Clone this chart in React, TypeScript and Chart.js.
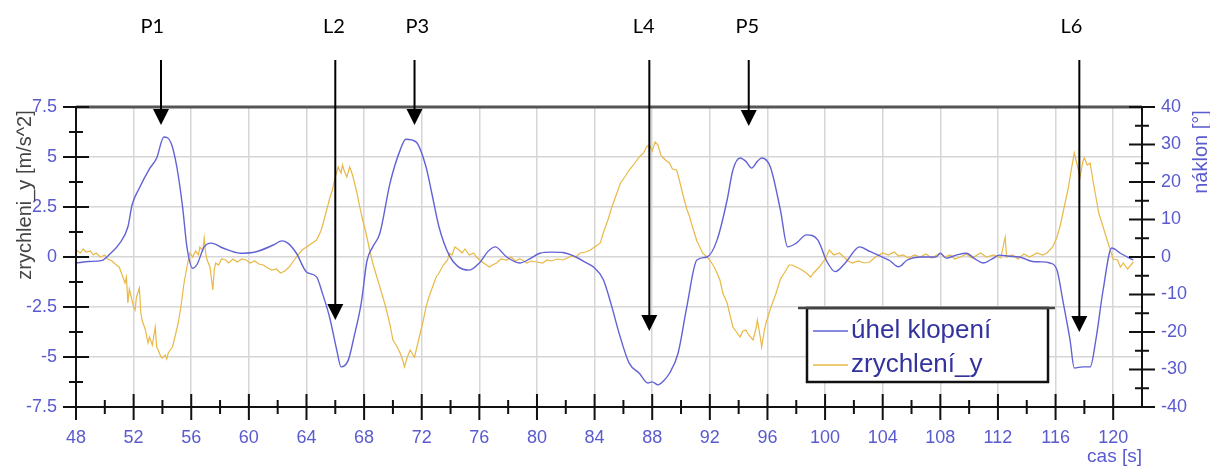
import React, { useEffect, useRef } from 'react';
import { Chart, registerables } from 'chart.js';

Chart.register(...registerables);

// ---- data -------------------------------------------------------------
const tiltTime = [
  48.0, 48.9, 49.8, 50.3, 51.0, 51.6, 51.9, 52.4, 53.1, 53.6, 54.1, 54.6, 55.0, 55.4, 55.7, 56.1, 56.4, 56.9,
  57.4, 58.2, 59.4, 60.5, 61.7, 62.3, 62.7, 63.3, 64.0, 64.7, 65.1, 65.6, 66.1, 66.4, 66.9, 67.3, 67.8, 68.2,
  68.6, 69.1, 69.8, 70.5, 70.9, 71.6, 72.3, 72.7, 73.2, 73.9, 74.5, 75.3, 76.0, 76.6, 77.1, 77.9, 78.8, 79.5,
  80.2, 81.0, 81.8, 82.7, 83.4, 83.9, 84.6, 85.2, 85.7, 86.4, 87.1, 87.7, 88.0, 88.4, 88.8, 89.2, 89.8, 90.4,
  91.1, 91.8, 92.5, 93.2, 93.6, 94.1, 94.5, 94.9, 95.3, 95.6, 96.2, 96.9, 97.4, 98.0, 98.7, 99.5, 100.1, 100.7,
  101.4, 102.4, 103.1, 103.8, 104.5, 105.1, 105.7, 106.6, 107.7, 108.0, 108.4, 109.1, 109.8, 110.4, 111.0,
  111.6, 112.1, 112.8, 113.5, 114.4, 115.0, 115.6, 116.1, 116.5, 117.0, 117.3, 117.9, 118.4, 118.8, 119.3,
  119.9, 120.5, 121.4,
];
const tiltDeg = [
  -1.6, -1.2, -0.9, 0.6, 3.5, 8, 14, 18.4, 23.5, 26.4, 32, 30.4, 24, 13.3, 2.7, -3, -2, 2.7,
  3.7, 2.4, 1, 1.4, 3.2, 4.3, 3.7, 1, -4, -5.3, -9.6, -16, -24.8, -29.3, -27.5, -21.3, -12.3, -1,
  2.7, 6.4, 19.7, 28.5, 31.4, 30.7, 24, 17, 8, 0.5, -2.5, -3.5, -1.6, 1.5, 2.7, 0, -1.6, -0.5,
  1, 1.3, 1.2, 0, -1.5, -2.6, -6, -13.3, -20.3, -28.3, -31, -33.6, -33.3, -34.1, -33, -31, -25.6, -13.3,
  -0.8, 0, 4.5, 15.2, 23.2, 26.4, 25.5, 23.7, 25.5, 26.4, 24, 12.5, 2.7, 3.7, 5.9, 4.5, -1, -3.9,
  -1.6, 2.7, 1.5, 0.3, -1, -2.6, -0.8, 0, 0, 1, -0.3, 0.5, 1, -0.5, -1.6,
  -0.5, 0.5, 0.2, 0, -1.2, -1.3, -1.6, -3.5, -11.5, -22, -29.6, -29.3, -29.3, -22, -8.8,
  2.4, 1, -0.8,
];

const accelTime = [
  48.0, 48.3, 48.5, 48.7, 49.0, 49.2, 49.4, 49.7, 50.0, 50.2, 50.5, 50.8, 51.0, 51.2, 51.4, 51.5, 51.6, 51.7,
  51.8, 52.0, 52.1, 52.2, 52.4, 52.5, 52.6, 52.8, 53.0, 53.1, 53.3, 53.5, 53.6, 53.7, 53.9, 54.0, 54.2, 54.3,
  54.4, 54.6, 54.7, 54.9, 55.1, 55.3, 55.5, 55.7, 55.9, 56.1, 56.3, 56.5, 56.6, 56.8, 56.9, 57.0, 57.1, 57.3,
  57.5, 57.6, 57.7, 57.9, 58.1, 58.4, 58.6, 58.9, 59.2, 59.5, 59.8, 60.1, 60.4, 60.7, 61.0, 61.3, 61.6, 61.9,
  62.2, 62.5, 62.8, 63.0, 63.3, 63.7, 64.0, 64.4, 64.7, 65.0, 65.2, 65.4, 65.6, 65.8, 66.0, 66.2, 66.4, 66.5,
  66.6, 66.8, 67.0, 67.2, 67.5, 67.7, 67.9, 68.1, 68.4, 68.6, 68.8, 69.1, 69.3, 69.5, 69.8, 70.0, 70.3, 70.5,
  70.7, 70.8, 71.0, 71.2, 71.4, 71.5, 71.7, 71.9, 72.1, 72.3, 72.5, 72.8, 73.0, 73.2, 73.5, 73.8, 73.9, 74.1,
  74.3, 74.6, 74.8, 75.0, 75.3, 75.6, 75.8, 76.1, 76.4, 76.7, 76.9, 77.2, 77.5, 77.9, 78.2, 78.5, 78.8, 79.0,
  79.3, 79.6, 80.0, 80.4, 80.7, 81.0, 81.4, 81.8, 82.1, 82.4, 82.7, 83.0, 83.4, 83.7, 84.0, 84.4, 84.6, 84.9,
  85.2, 85.5, 85.8, 86.1, 86.4, 86.7, 87.1, 87.4, 87.6, 87.8, 88.0, 88.2, 88.4, 88.6, 88.7, 89.0, 89.2, 89.4,
  89.7, 89.9, 90.1, 90.4, 90.6, 90.8, 91.1, 91.5, 91.8, 92.0, 92.3, 92.5, 92.7, 92.9, 93.2, 93.4, 93.6, 93.8,
  94.1, 94.3, 94.5, 94.7, 95.0, 95.2, 95.3, 95.5, 95.6, 95.8, 95.9, 96.2, 96.6, 96.9, 97.3, 97.5, 97.7, 98.0,
  98.4, 98.7, 99.0, 99.2, 99.6, 100.0, 100.3, 100.6, 101.0, 101.3, 101.6, 101.9, 102.3, 102.7, 103.1, 103.5,
  104.0, 104.4, 104.8, 105.1, 105.4, 105.8, 106.2, 106.6, 107.0, 107.4, 108.0, 108.3, 108.7, 109.0, 109.4,
  109.8, 110.2, 110.8, 111.2, 111.7, 112.2, 112.5, 112.6, 113.0, 113.4, 113.8, 114.2, 114.7, 115.1, 115.4,
  115.8, 116.1, 116.3, 116.6, 116.9, 117.1, 117.3, 117.5, 117.7, 117.9, 118.0, 118.2, 118.4, 118.6, 118.8,
  119.0, 119.3, 119.6, 119.8, 120.0, 120.3, 120.5, 120.7, 121.0, 121.4,
];
const accelMs2 = [
  0.35, 0.2, 0.4, 0.25, 0.3, 0.1, 0.2, 0.0, 0.1, -0.1, -0.2, -0.4, -0.5, -0.9, -1.3, -1.0, -2.3, -1.6,
  -1.9, -2.5, -2.65, -2.0, -1.55, -2.8, -3.2, -3.6, -4.3, -4.0, -4.4, -3.5, -4.5, -4.65, -5.0, -5.05, -4.9, -5.1,
  -4.8, -4.6, -4.5, -3.9, -3.3, -2.4, -1.3, -0.5, 0.2, 0.0, 0.3, 0.1, 0.5, 0.3, 0.95, 0.2, -0.15, -0.5,
  -1.65, -0.6, -0.3, -0.4, -0.1, -0.15, -0.3, -0.1, -0.25, -0.1, -0.15, -0.3, -0.2, -0.35, -0.4, -0.55, -0.65, -0.6,
  -0.8, -0.7, -0.5, -0.3, 0.0, 0.35, 0.5, 0.7, 0.85, 1.3, 1.8, 2.35, 2.9, 3.35, 4.0, 4.5, 4.2, 4.6,
  4.35, 4.0, 4.5, 4.1, 3.2, 2.5, 1.85, 1.3, 0.3, -0.3, -0.8, -1.5, -2.0, -2.5, -3.4, -4.15, -4.5, -4.8,
  -5.2, -5.5, -5.0, -4.65, -4.9, -5.0, -4.4, -3.8, -3.2, -2.5, -2.0, -1.4, -1.0, -0.8, -0.4, -0.15, 0.2, 0.1,
  0.5, 0.35, 0.2, 0.4, 0.1, 0.2, 0.0, -0.2, -0.35, -0.5, -0.4, -0.3, -0.1, -0.15, 0.0, -0.2, -0.1, -0.15,
  -0.3, -0.2, -0.25, -0.3, -0.15, -0.2, -0.1, -0.15, -0.05, 0.05, 0.0, 0.2, 0.25, 0.35, 0.5, 0.7, 1.2, 1.8,
  2.5, 3.1, 3.7, 4.0, 4.35, 4.6, 5.0, 5.2, 5.5, 5.6, 5.3, 5.75, 5.6, 5.1, 5.0, 4.8, 4.7, 4.4,
  4.35, 3.8, 3.2, 2.4, 2.0, 1.5, 0.8, 0.2, 0.0, -0.15, -0.5, -0.8, -1.15, -1.8, -2.3, -2.9, -3.5, -3.7,
  -4.0, -3.7, -3.65, -3.9, -4.15, -3.6, -3.15, -4.0, -4.5, -3.6, -3.3, -2.6, -1.8, -1.1, -0.65, -0.4, -0.4, -0.5,
  -0.65, -0.8, -1.0, -0.8, -0.5, -0.1, 0.35, 0.1, 0.2, 0.0, -0.2, -0.3, -0.2, -0.3, -0.25, 0.0,
  0.2, 0.1, 0.25, 0.05, 0.1, -0.05, 0.1, 0.0, 0.15, -0.05, 0.2, 0.0, 0.1, -0.1, 0.0,
  0.15, -0.05, 0.2, 0.0, 0.1, -0.05, 1.0, 0.0, 0.1, -0.1, 0.15, 0.0, 0.2, 0.1, 0.2,
  0.5, 1.0, 1.5, 2.5, 3.5, 4.4, 5.2, 4.6, 4.0, 4.8, 4.95, 4.6, 4.7, 3.8, 3.0,
  2.2, 1.5, 0.8, 0.35, -0.1, -0.15, -0.5, -0.3, -0.6, -0.25,
];

const timeTicks = [48, 52, 56, 60, 64, 68, 72, 76, 80, 84, 88, 92, 96, 100, 104, 108, 112, 116, 120];
const accelTicks = [-7.5, -5, -2.5, 0, 2.5, 5, 7.5];
const tiltTicks = [-40, -30, -20, -10, 0, 10, 20, 30, 40];

const seriesNames = ['úhel klopení', 'zrychlení_y'];
const markerNames = ['P1', 'L2', 'P3', 'L4', 'P5', 'L6'];
const markerTimes = [53.9, 66.0, 71.5, 87.8, 94.7, 117.65];
const markerLabelTimes = [53.3, 65.9, 71.7, 87.4, 94.6, 117.1];
const markerTipAccel = [6.6, -3.15, 6.6, -3.7, 6.55, -3.75];

// ---- styles -----------------------------------------------------------
const BLUE = '#6262d6';
const ORANGE = '#e9b846';
const LABEL_BLUE = '#5a5ad0';
const FONT = '"Liberation Sans", Arial, sans-serif';

const midpoints = (arr: number[]) => arr.slice(1).map((v, i) => (v + arr[i]) / 2);

const decorPlugin = {
  id: 'decor',
  afterDraw(chart: any) {
    const { ctx, chartArea: a, scales } = chart;
    const sx = scales.x, sl = scales.yL, sr = scales.yR;
    ctx.save();

    // top border
    ctx.strokeStyle = '#555';
    ctx.lineWidth = 3;
    ctx.beginPath();
    ctx.moveTo(a.left, a.top);
    ctx.lineTo(a.right, a.top);
    ctx.stroke();

    // axis lines
    ctx.strokeStyle = '#111';
    ctx.lineWidth = 2;
    ctx.beginPath();
    ctx.moveTo(a.left, a.top);
    ctx.lineTo(a.left, a.bottom);
    ctx.lineTo(a.right, a.bottom);
    ctx.moveTo(a.right, a.top);
    ctx.lineTo(a.right, a.bottom);
    ctx.stroke();

    // tick marks
    const hTick = (v: number, half: number) => {
      const px = sx.getPixelForValue(v);
      ctx.moveTo(px, a.bottom - half);
      ctx.lineTo(px, a.bottom + half);
    };
    const vTick = (scale: any, xPos: number, v: number, half: number) => {
      const py = scale.getPixelForValue(v);
      ctx.moveTo(xPos - half, py);
      ctx.lineTo(xPos + half, py);
    };
    ctx.beginPath();
    timeTicks.forEach((v) => hTick(v, 13));
    midpoints(timeTicks).forEach((v) => hTick(v, 7));
    accelTicks.forEach((v) => vTick(sl, a.left, v, 13));
    midpoints(accelTicks).forEach((v) => vTick(sl, a.left, v, 7));
    tiltTicks.forEach((v) => vTick(sr, a.right, v, 13));
    midpoints(tiltTicks).forEach((v) => vTick(sr, a.right, v, 7));
    ctx.stroke();

    // axis titles
    ctx.font = `20px ${FONT}`;
    ctx.textBaseline = 'middle';
    ctx.save();
    ctx.translate(25, 195);
    ctx.rotate(-Math.PI / 2);
    ctx.textAlign = 'center';
    ctx.fillStyle = '#444';
    ctx.fillText('zrychleni_y [m/s^2]', 0, 0);
    ctx.restore();

    ctx.save();
    ctx.translate(1201, 152);
    ctx.rotate(-Math.PI / 2);
    ctx.textAlign = 'center';
    ctx.fillStyle = LABEL_BLUE;
    ctx.fillText('náklon [°]', 0, 0);
    ctx.restore();

    ctx.font = `19px ${FONT}`;
    ctx.fillStyle = LABEL_BLUE;
    ctx.textAlign = 'right';
    ctx.fillText('cas [s]', a.right, 457);

    // legend
    const lx0 = 807, lx1 = 1048, ly0 = 308, ly1 = 382;
    ctx.fillStyle = '#fff';
    ctx.fillRect(lx0, ly0, lx1 - lx0, ly1 - ly0);
    ctx.strokeStyle = '#111';
    ctx.lineWidth = 2.5;
    ctx.strokeRect(lx0, ly0, lx1 - lx0, ly1 - ly0);
    ctx.strokeStyle = '#444';
    ctx.beginPath();
    ctx.moveTo(798, ly0);
    ctx.lineTo(1055, ly0);
    ctx.stroke();
    const legendColors = [BLUE, ORANGE];
    const legendY = [331, 365];
    ctx.font = `26px ${FONT}`;
    ctx.textAlign = 'left';
    seriesNames.forEach((name, i) => {
      ctx.strokeStyle = legendColors[i];
      ctx.lineWidth = 1.5;
      ctx.beginPath();
      ctx.moveTo(813, legendY[i]);
      ctx.lineTo(848, legendY[i]);
      ctx.stroke();
      ctx.fillStyle = '#33339e';
      ctx.fillText(name, 851, legendY[i]);
    });

    // arrows and labels
    ctx.strokeStyle = '#000';
    ctx.fillStyle = '#000';
    ctx.lineWidth = 2;
    markerNames.forEach((name, i) => {
      const px = sx.getPixelForValue(markerTimes[i]);
      const tip = sl.getPixelForValue(markerTipAccel[i]);
      ctx.beginPath();
      ctx.moveTo(px, 60);
      ctx.lineTo(px, tip - 12);
      ctx.stroke();
      ctx.beginPath();
      ctx.moveTo(px - 8, tip - 16);
      ctx.lineTo(px + 8, tip - 16);
      ctx.lineTo(px, tip);
      ctx.closePath();
      ctx.fill();
      ctx.font = `20px Lato, ${FONT}`;
      ctx.textAlign = 'center';
      ctx.textBaseline = 'middle';
      ctx.fillText(name, sx.getPixelForValue(markerLabelTimes[i]), 27);
    });

    ctx.restore();
  },
};

export default function App() {
  const ref = useRef<HTMLCanvasElement | null>(null);

  useEffect(() => {
    if (!ref.current) return;
    const gridColor = '#d6d6d6';
    const tickFont = { family: FONT, size: 18 };
    const chart = new Chart(ref.current, {
      type: 'line',
      data: {
        datasets: [
          {
            label: seriesNames[0],
            data: tiltTime.map((t, i) => ({ x: t, y: tiltDeg[i] })),
            yAxisID: 'yR',
            borderColor: BLUE,
            borderWidth: 1.4,
            pointRadius: 0,
            cubicInterpolationMode: 'monotone',
          },
          {
            label: seriesNames[1],
            data: accelTime.map((t, i) => ({ x: t, y: accelMs2[i] })),
            yAxisID: 'yL',
            borderColor: ORANGE,
            borderWidth: 1.2,
            pointRadius: 0,
            tension: 0,
          },
        ],
      },
      options: {
        animation: false,
        responsive: false,
        maintainAspectRatio: false,
        layout: { padding: { top: 107, left: 0, right: 0, bottom: 0 } },
        plugins: { legend: { display: false }, tooltip: { enabled: false } },
        scales: {
          x: {
            type: 'linear',
            position: 'bottom',
            min: 48,
            max: 122,
            afterBuildTicks: (s: any) => {
              s.ticks = timeTicks.map((v) => ({ value: v }));
            },
            afterFit: (s: any) => {
              s.height = 63;
            },
            grid: { color: gridColor, lineWidth: 1.5, drawTicks: false },
            border: { display: false },
            ticks: {
              color: LABEL_BLUE,
              font: tickFont,
              padding: 20,
              maxRotation: 0,
              autoSkip: false,
              callback: (v: any) => String(v),
            },
          },
          yL: {
            type: 'linear',
            position: 'left',
            min: -7.5,
            max: 7.5,
            afterBuildTicks: (s: any) => {
              s.ticks = accelTicks.map((v) => ({ value: v }));
            },
            afterFit: (s: any) => {
              s.width = 76;
            },
            grid: { color: gridColor, lineWidth: 1.5, drawTicks: false },
            border: { display: false },
            ticks: {
              color: LABEL_BLUE,
              font: tickFont,
              padding: 19,
              autoSkip: false,
              callback: (v: any) => String(v),
            },
          },
          yR: {
            type: 'linear',
            position: 'right',
            min: -40,
            max: 40,
            afterBuildTicks: (s: any) => {
              s.ticks = tiltTicks.map((v) => ({ value: v }));
            },
            afterFit: (s: any) => {
              s.width = 68;
            },
            grid: { drawOnChartArea: false, drawTicks: false },
            border: { display: false },
            ticks: {
              color: LABEL_BLUE,
              font: tickFont,
              padding: 19,
              autoSkip: false,
              callback: (v: any) => String(v),
            },
          },
        },
      },
      plugins: [decorPlugin],
    } as any);
    return () => chart.destroy();
  }, []);

  return (
    <div style={{ position: 'absolute', left: 0, top: 0, width: 1210, height: 470, background: '#fff' }}>
      <canvas ref={ref} width={1210} height={470} style={{ display: 'block' }} />
    </div>
  );
}
